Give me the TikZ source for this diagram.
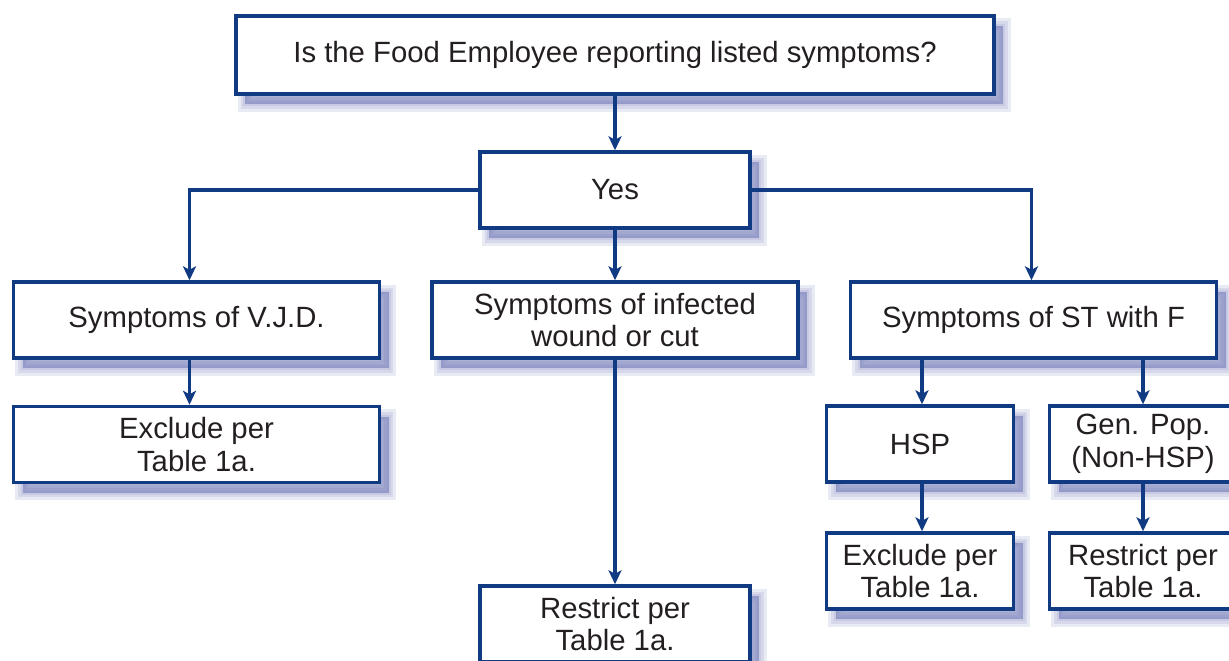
\documentclass[tikz,border=0pt]{standalone}
\usepackage{fontspec}
\setmainfont{Liberation Sans}
\usetikzlibrary{arrows.meta,shadows}
\definecolor{navy}{RGB}{16,58,130}
\definecolor{shadowblue}{RGB}{110,118,180}
\definecolor{ink}{RGB}{35,31,32}
\begin{document}
\begin{tikzpicture}[x=1pt,y=-1pt,line width=3.4pt,
  every node/.style={font=\fontsize{29.3}{32.5}\selectfont,text=ink,align=center,inner sep=0pt},
  soft/.style={general shadow={fill=shadowblue,draw=shadowblue,line width=#1,opacity=0.15,shadow xshift=9pt,shadow yshift=-10pt}},
  box/.style={draw=navy,fill=white,rectangle,minimum height=76pt,soft=15pt,soft=9pt,soft=4pt,
    general shadow={fill=shadowblue,opacity=0.3,shadow xshift=9pt,shadow yshift=-10pt}},
  arr/.style={draw=navy,-{Stealth[length=14pt,width=13pt,inset=3.5pt]}}]
\useasboundingbox (0,0) rectangle (1229,661);
\clip (0,0) rectangle (1229,661);
\node[box,minimum width=758pt,minimum height=78pt] (ask) at (615,55) {Is the Food Employee reporting listed symptoms?};
\node[box,minimum width=270pt] (yes) at (615,190) {Yes};
\node[box,minimum width=366pt] (vjd) at (196.5,320) {Symptoms of V.J.D.};
\node[box,minimum width=366pt] (wound) at (615,320) {Symptoms of infected\\wound or cut};
\node[box,minimum width=366pt] (stf) at (1033.5,320) {Symptoms of ST with F};
\node[box,minimum width=366pt] (exvjd) at (196.5,444.5) {Exclude per\\Table 1a.};
\node[box,minimum width=187pt] (hsp) at (920,444) {HSP};
\node[box,minimum width=187pt] (genpop) at (1143,444) {Gen. Pop.\\(Non-HSP)};
\node[box,minimum width=187pt] (exhsp) at (920,571) {Exclude per\\Table 1a.};
\node[box,minimum width=187pt] (rsgen) at (1143,571) {Restrict per\\Table 1a.};
\node[box,minimum width=270pt] (rswound) at (615,624) {Restrict per\\Table 1a.};
\draw[arr] (ask) -- (yes);
\draw[arr] (yes.west) -| ([xshift=-7pt]vjd.north);
\draw[arr] (yes) -- (wound);
\draw[arr] (yes.east) -| ([xshift=-2pt]stf.north);
\draw[arr] ([xshift=-7pt]vjd.south) -- ([xshift=-7pt]exvjd.north);
\draw[arr] (wound) -- (rswound);
\draw[arr] (stf.south -| hsp.north) ++(2pt,0) -- ([xshift=2pt]hsp.north);
\draw[arr] (stf.south -| genpop.north) -- (genpop.north);
\draw[arr] ([xshift=2pt]hsp.south) -- ([xshift=2pt]exhsp.north);
\draw[arr] (genpop) -- (rsgen);
\end{tikzpicture}
\end{document}
